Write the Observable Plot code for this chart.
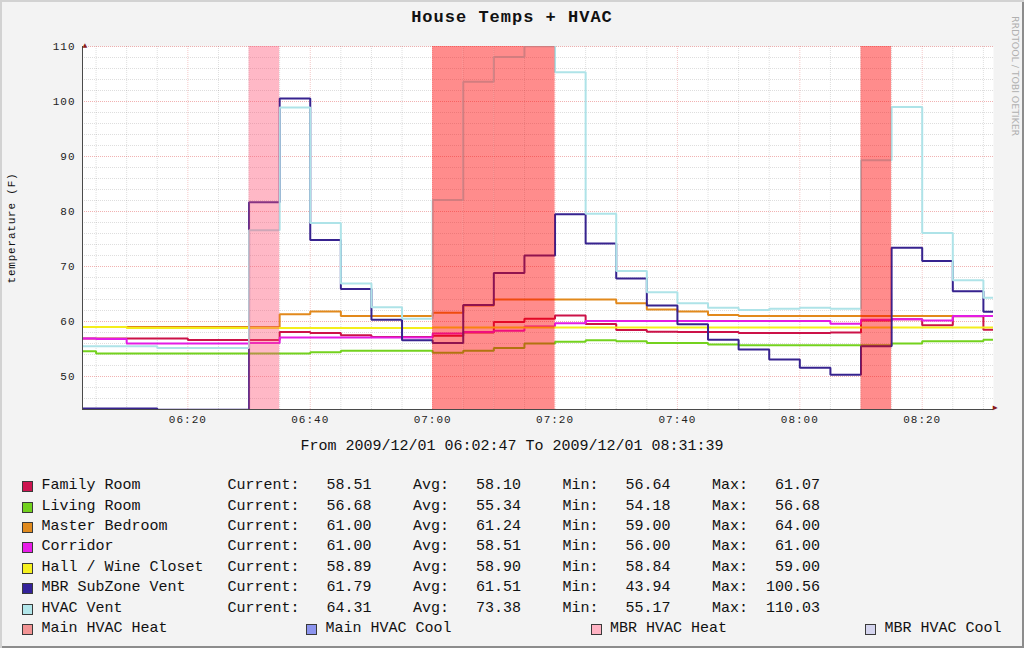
<!DOCTYPE html>
<html>
<head>
<meta charset="utf-8">
<script src="https://cdn.jsdelivr.net/npm/d3@7"></script>
<script src="https://cdn.jsdelivr.net/npm/@observablehq/plot@0.6"></script>
<style>
  html, body { margin: 0; padding: 0; background: #f3f3f3; }
  #wrap { position: relative; width: 1024px; height: 648px; background: #f3f3f3;
          box-shadow: inset 2px 2px 0 #d2d2d2, inset -2px -2px 0 #8c8c8c; overflow: hidden;
          font-family: "Liberation Mono", "DejaVu Sans Mono", monospace; color: #111; }
  .abs { position: absolute; white-space: pre; }
  #title { top: 8px; left: 0; width: 1024px; text-align: center; font-weight: bold; font-size: 17px; letter-spacing: 1px; }
  #ylabel { left: 12px; top: 228px; font-size: 11px; letter-spacing: 0.8px; transform: translate(-50%, -50%) rotate(-90deg); }
  #wm { left: 1015px; top: 76px; font-family: "DejaVu Sans", sans-serif; font-size: 9.5px; color: #b0b0b0; letter-spacing: -0.1px; transform: translate(-50%, -50%) rotate(90deg); }
  #from { top: 438px; left: 0; width: 1024px; text-align: center; font-size: 15px; }
  #chart { position: absolute; left: 0; top: 36px; }
  #chart svg g[aria-label="x-axis tick label"] text,
  #chart svg g[aria-label="y-axis tick label"] text { letter-spacing: 1px; }
  .row { font-size: 15px; line-height: 18px; }
  .sw { position: absolute; width: 9px; height: 9px; border: 1px solid #3a3a3a; }
</style>
</head>
<body>
<div id="wrap">
  <div id="title" class="abs">House Temps + HVAC</div>
  <div id="ylabel" class="abs">temperature (F)</div>
  <div id="wm" class="abs">RRDTOOL / TOBI OETIKER</div>
  <div id="chart"></div>
  <div id="from" class="abs">From 2009/12/01 06:02:47 To 2009/12/01 08:31:39</div>
  <div id="legend"></div>
</div>
<script>
// ---------- data ----------
const startStamp = "2009-12-01T06:02:47Z";
const endStamp   = "2009-12-01T08:31:39Z";
const binStarts = ["06:00","06:05","06:10","06:15","06:20","06:25","06:30","06:35","06:40","06:45",
                   "06:50","06:55","07:00","07:05","07:10","07:15","07:20","07:25","07:30","07:35",
                   "07:40","07:45","07:50","07:55","08:00","08:05","08:10","08:15","08:20","08:25","08:30"];

const familyRoom    = [56.9,56.9,56.9,56.9,56.64,56.64,56.64,58.1,57.9,57.5,57.2,57.2,57.4,58.0,59.9,60.5,61.07,59.55,58.45,58.15,58.1,58.1,57.9,57.9,57.9,58.0,60.2,60.4,59.3,60.95,58.51];
const livingRoom    = [54.6,54.18,54.18,54.18,54.18,54.18,54.18,54.18,54.4,54.7,54.7,54.7,54.3,54.7,55.2,56.0,56.3,56.6,56.4,56.1,56.1,55.8,55.7,55.7,55.7,55.7,55.7,56.0,56.4,56.4,56.68];
const masterBedroom = [59.0,59.0,59.0,59.0,59.0,59.0,59.0,61.3,61.8,61.0,61.0,61.0,61.6,62.9,64.0,64.0,64.0,64.0,63.3,62.2,61.8,61.2,61.0,61.0,61.0,61.0,61.0,61.0,61.0,61.0,61.0];
const corridor      = [56.9,56.8,56.0,56.0,56.0,56.0,56.1,57.1,57.1,57.1,57.1,57.1,57.8,58.1,58.3,59.1,59.7,60.1,60.1,60.1,60.1,60.1,60.1,60.1,60.1,59.6,60.3,60.4,60.2,61.0,61.0];
const hallWine      = [59.0,59.0,58.84,58.84,58.84,58.84,58.84,58.84,58.84,58.84,58.84,58.84,58.9,58.9,58.9,58.9,58.9,58.9,58.9,58.9,58.9,58.9,58.9,58.9,58.9,58.9,58.9,58.9,58.9,58.9,58.89];
const mbrVent       = [44.2,44.2,44.2,43.94,43.94,43.94,81.7,100.56,74.8,65.9,60.3,56.6,56.1,63.0,68.8,72.0,79.5,74.2,67.8,62.9,59.5,56.7,54.9,53.1,51.6,50.3,55.5,73.4,71.0,65.5,61.79];
const hvacVent      = [55.5,55.5,55.5,55.17,55.17,55.17,76.6,98.9,77.9,66.9,62.6,60.5,82.1,103.6,108.1,110.03,105.3,79.6,69.2,65.3,63.3,62.5,62.1,62.3,62.5,62.3,89.3,99.0,76.1,67.5,64.31];
const mainHeat      = [0,0,0,0,0,0,0,0,0,0,0,0,1,1,1,1,0,0,0,0,0,0,0,0,0,0,1,0,0,0,0];
const mbrHeat       = [0,0,0,0,0,0,1,0,0,0,0,0,0,0,0,0,0,0,0,0,0,0,0,0,0,0,0,0,0,0,0];

const seriesNames = ["Family Room","Living Room","Master Bedroom","Corridor","Hall / Wine Closet","MBR SubZone Vent","HVAC Vent"];
const seriesColors = ["#CC1248","#74D21E","#E2891C","#E41CE4","#F4EE1C","#37238F","#AEE3E8"];
const swatchColors = ["#CC1450","#72D11E","#E08A1E","#E81EE8","#F5F01E","#33229A","#B2E6EA"];
const currentVals = [58.51,56.68,61.00,61.00,58.89,61.79,64.31];
const avgVals     = [58.10,55.34,61.24,58.51,58.90,61.51,73.38];
const minVals     = [56.64,54.18,59.00,56.00,58.84,43.94,55.17];
const maxVals     = [61.07,56.68,64.00,61.00,59.00,100.56,110.03];
const areaNames   = ["Main HVAC Heat","Main HVAC Cool","MBR HVAC Heat","MBR HVAC Cool"];
const areaSwatch  = ["#F29494","#8C94EE","#FFB3C3","#D4D4EE"];

const yDomain = [44, 110];
const yMajorTicks = [50,60,70,80,90,100,110];
const xLabelTicks = ["06:20","06:40","07:00","07:20","07:40","08:00","08:20"];

// ---------- build ----------
const startTime = new Date(startStamp), endTime = new Date(endStamp);
const binTime = hm => new Date(`2009-12-01T${hm}:00Z`);
const STEP = 5 * 60 * 1000;
const seriesValues = [familyRoom, livingRoom, masterBedroom, corridor, hallWine, mbrVent, hvacVent];

function stepData(values) {
  const pts = values.map((v, i) => ({x: i === 0 ? startTime : binTime(binStarts[i]), y: v}));
  pts.push({x: endTime, y: values[values.length - 1]});
  return pts;
}
function bands(flags) {
  return binStarts.map((hm, i) => ({on: flags[i], x1: binTime(hm), x2: new Date(+binTime(hm) + STEP)}))
                  .filter(d => d.on);
}
const yMinor = d3.range(46, 110, 2).filter(v => v % 10 !== 0);
const xMinor = binStarts.slice(1).map(binTime).filter(d => !xLabelTicks.includes(d3.utcFormat("%H:%M")(d)));
const xMajor = xLabelTicks.map(binTime);

const gridStyle = {strokeWidth: 1, strokeDasharray: "1,1"};
const marks = [
  Plot.frame({fill: "white", stroke: null}),
  Plot.ruleY(yMinor, {stroke: "#000", strokeOpacity: 0.13, ...gridStyle}),
  Plot.ruleX(xMinor, {stroke: "#000", strokeOpacity: 0.13, ...gridStyle}),
  Plot.ruleY(yMajorTicks, {stroke: "#d00000", strokeOpacity: 0.3, ...gridStyle}),
  Plot.ruleX(xMajor, {stroke: "#d00000", strokeOpacity: 0.22, ...gridStyle}),
];
seriesValues.forEach((vals, i) => {
  marks.push(Plot.line(stepData(vals), {x: "x", y: "y", curve: "step-after", stroke: seriesColors[i], strokeWidth: 2, strokeLinejoin: "miter", strokeLinecap: "butt", clip: true}));
});
marks.push(
  Plot.rect(bands(mainHeat), {x1: "x1", x2: "x2", fill: "#FF0000", fillOpacity: 0.45}),
  Plot.rect(bands(mbrHeat), {x1: "x1", x2: "x2", fill: "#FF4D70", fillOpacity: 0.4}),
  Plot.ruleY([yDomain[0]], {stroke: "#4a4a4a", strokeWidth: 1.2}),
  Plot.ruleX([startTime], {stroke: "#4a4a4a", strokeWidth: 1}),
  Plot.text([0], {frameAnchor: "top-left", text: () => "\u25B2", fill: "#8B1C1C", fontSize: 8, dy: -4}),
  Plot.text([0], {frameAnchor: "bottom-right", text: () => "\u25B6", fill: "#8B1C1C", fontSize: 8, dx: 4}),
  Plot.axisX({ticks: xMajor, tickFormat: d3.utcFormat("%H:%M"), tickSize: 0, tickPadding: 6, label: null, fontSize: 11, fill: "#222"}),
  Plot.axisY({ticks: yMajorTicks, tickSize: 0, tickPadding: 7, label: null, fontSize: 11, fill: "#222"})
);

const chart = Plot.plot({
  width: 1024, height: 400,
  marginLeft: 82, marginRight: 31, marginTop: 10, marginBottom: 27,
  x: {type: "utc", domain: [startTime, endTime]},
  y: {domain: yDomain},
  style: {background: "transparent", fontFamily: "'Liberation Mono', 'DejaVu Sans Mono', monospace", fontSize: "11px", overflow: "visible"},
  marks
});
document.getElementById("chart").appendChild(chart);

// ---------- legend ----------
const legend = document.getElementById("legend");
const rowY = i => 486.7 + 20.4 * i;
const fmt = d3.format(">8.2f");
function addText(txt, x, yc) {
  const el = document.createElement("div");
  el.className = "abs row";
  el.textContent = txt;
  el.style.left = x + "px";
  el.style.top = (yc - 9.5) + "px";
  legend.appendChild(el);
}
function addSwatch(color, x, yc) {
  const el = document.createElement("div");
  el.className = "sw";
  el.style.background = color;
  el.style.left = x + "px";
  el.style.top = (yc - 5.5) + "px";
  legend.appendChild(el);
}
seriesNames.forEach((name, i) => {
  const yc = rowY(i);
  addSwatch(swatchColors[i], 22, yc);
  addText(name, 41.5, yc);
  addText("Current:" + fmt(currentVals[i]), 227.5, yc);
  addText("Avg:" + fmt(avgVals[i]), 413, yc);
  addText("Min:" + fmt(minVals[i]), 562.5, yc);
  addText("Max:" + fmt(maxVals[i]), 712, yc);
});
const areaX = [22, 306, 590.5, 865];
areaNames.forEach((name, i) => {
  const yc = rowY(7);
  addSwatch(areaSwatch[i], areaX[i], yc);
  addText(name, areaX[i] + 19.5, yc);
});
</script>
</body>
</html>
